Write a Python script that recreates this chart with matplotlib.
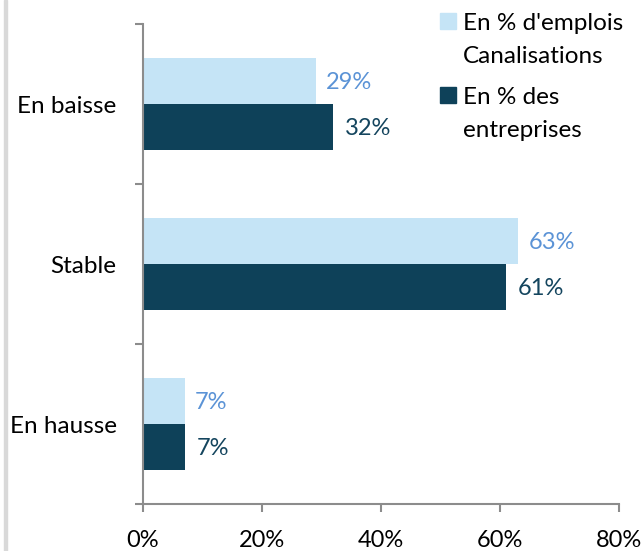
import matplotlib
matplotlib.use("Agg")
import matplotlib.pyplot as plt
from matplotlib.patches import Rectangle
import numpy as np

categories = ["En baisse", "Stable", "En hausse"]
emplois = [29, 63, 7]
entreprises = [32, 61, 7]
series_names = ["En % d'emplois\nCanalisations", "En % des\nentreprises"]
xticks = [0, 20, 40, 60, 80]

light = "#C5E4F6"
dark = "#0E4159"
light_txt = "#5B93D6"
dark_txt = "#14455E"
axis_col = "#8C8C8C"

plt.rcParams['font.family'] = ['Lato', 'DejaVu Sans']
FS_CAT = 17.5
FS_LAB = 17
FS_TICK = 17
FS_LEG = 17.5

W, H = 644, 551
fig = plt.figure(figsize=(W/100, H/100), dpi=100)
fig.patches.append(Rectangle((4/W, 0), 3/W, 1, transform=fig.transFigure,
                             color="#D9D9D9", zorder=0))
ax = fig.add_axes([143/W, 1 - 504/H, (619 - 143)/W, (504 - 24)/H])

y = np.arange(len(categories))
h = 0.2875
ax.barh(y - h/2, emplois, height=h, color=light)
ax.barh(y + h/2, entreprises, height=h, color=dark)

for yi, v in zip(y - h/2, emplois):
    ax.annotate(f"{v}%", (v, yi), xytext=(7.5, -1), textcoords="offset points",
                va="center", ha="left", color=light_txt, fontsize=FS_LAB)
for yi, v in zip(y + h/2, entreprises):
    ax.annotate(f"{v}%", (v, yi), xytext=(8.5, -1), textcoords="offset points",
                va="center", ha="left", color=dark_txt, fontsize=FS_LAB)

ax.set_xlim(0, 80)
ax.set_ylim(2.5, -0.5)
ax.set_xticks(xticks)
ax.set_xticklabels([f"{t}%" for t in xticks], fontsize=FS_TICK)
ax.set_yticks(y)
ax.set_yticklabels(categories, fontsize=FS_CAT)
ax.set_yticks(np.arange(len(categories) + 1) - 0.5, minor=True)
ax.tick_params(axis="y", which="major", length=0, pad=19)
ax.tick_params(axis="y", which="minor", length=6, width=1.5, color=axis_col, direction="out")
ax.tick_params(axis="x", length=6, width=1.5, color=axis_col, pad=12.5)

for s in ["top", "right"]:
    ax.spines[s].set_visible(False)
for s in ["left", "bottom"]:
    ax.spines[s].set_color(axis_col)
    ax.spines[s].set_linewidth(1.5)

# manual legend: square aligned with first line of each label
leg_colors = [light, dark]
sq_top = [13, 87]
for name, col, top in zip(series_names, leg_colors, sq_top):
    fig.patches.append(Rectangle((440/W, 1 - (top + 16)/H), 16/W, 16/H,
                                 transform=fig.transFigure, color=col))
    for k, line in enumerate(name.split("\n")):
        base = top + 17 + 33*k
        fig.text(463/W, 1 - base/H, line, fontsize=FS_LEG, va="baseline",
                 ha="left", color="black")

fig.savefig("out.png", dpi=100)
